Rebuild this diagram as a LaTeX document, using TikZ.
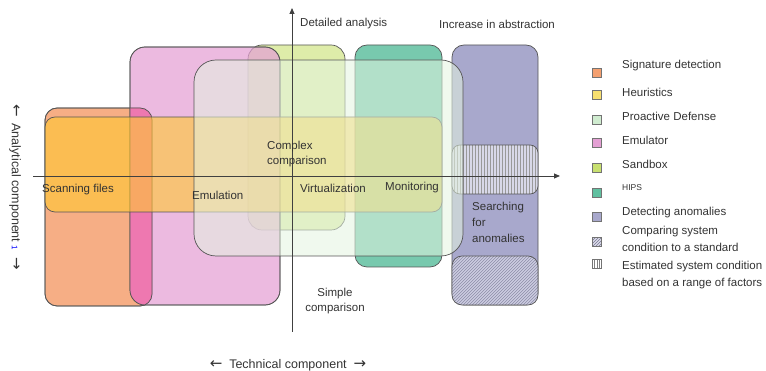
\documentclass[tikz,border=0pt]{standalone}
\usepackage{fontspec}
\setmainfont{Liberation Sans}
\newfontfamily\arrfont{DejaVu Sans}
\usetikzlibrary{arrows.meta}
\definecolor{cOrange}{HTML}{F4A070}
\definecolor{cYellow}{HTML}{FFC830}
\definecolor{cYellowL}{HTML}{F8E070}
\definecolor{cProact}{HTML}{D0ECD0}
\definecolor{cProactF}{HTML}{E4F4E0}
\definecolor{cPink}{HTML}{E4A0D4}
\definecolor{cHot}{HTML}{EE78B0}
\definecolor{cSand}{HTML}{C8E070}
\definecolor{cHips}{HTML}{60C0A0}
\definecolor{cPurple}{HTML}{A8A8CC}
\definecolor{cText}{HTML}{333333}
\definecolor{cEdge}{HTML}{555555}
\begin{document}
\begin{tikzpicture}[x=1pt,y=-1pt,
  box/.style={draw=cEdge, line width=0.7pt, inner sep=0pt, outer sep=0pt, anchor=north west},
  lbl/.style={text=cText, font=\fontsize{11.5}{15}\selectfont, inner sep=0pt},
  axlbl/.style={text=cText, font=\fontsize{12.5}{15}\selectfont, inner sep=0pt},
  legsq/.style={draw=black!55, line width=0.8pt, minimum width=9pt, minimum height=9pt, inner sep=0pt},
  legtxt/.style={lbl, anchor=west, align=left, font=\fontsize{11.5}{16.5}\selectfont},
  axis/.style={draw=black!75, line width=0.9pt, -{Triangle[length=6pt,width=5pt]}}
]
\useasboundingbox (0,0) rectangle (766,371);
% boxes
\node[box, fill=cSand, fill opacity=0.6, rounded corners=14pt, minimum width=97pt, minimum height=185pt] (sand) at (248,45) {};
\node[box, fill=cOrange, fill opacity=0.85, rounded corners=12pt, minimum width=107pt, minimum height=198pt] (sig) at (45,108) {};
\node[box, fill=cPink, fill opacity=0.72, rounded corners=15pt, minimum width=150pt, minimum height=258pt] (emu) at (130,47) {};
% overlap of signature detection and emulator
\begin{scope}
\clip[rounded corners=12pt] (45,108) rectangle (152,306);
\fill[cHot, rounded corners=15pt] (130,47) rectangle (280,305);
\end{scope}
\draw[cEdge, line width=0.7pt, rounded corners=12pt] (sig.north west) rectangle (sig.south east);
\draw[cEdge, line width=0.7pt, rounded corners=15pt] (emu.north west) rectangle (emu.south east);
\node[box, fill=cHips, fill opacity=0.85, rounded corners=12pt, minimum width=87pt, minimum height=222pt] (hips) at (355,45) {};
\node[box, fill=cYellow, fill opacity=0.6, rounded corners=10pt, minimum width=397pt, minimum height=95pt] (heur) at (45,117) {};
\node[box, fill=cPurple, rounded corners=12pt, minimum width=86pt, minimum height=260pt] (anom) at (452,45) {};
% striped box
\begin{scope}
\clip[rounded corners=8pt] (452,145) rectangle (538,194);
\fill[cPurple!45!white] (452,145) rectangle (538,194);
\foreach \x in {454,457,...,538} \draw[black!40, line width=0.5pt] (\x,145) -- (\x,194);
\end{scope}
\node[box, rounded corners=8pt, minimum width=86pt, minimum height=49pt] (stripe) at (452,145) {};
% hatched box
\begin{scope}
\clip[rounded corners=10pt] (452,256) rectangle (538,305);
\fill[cPurple!60!white] (452,256) rectangle (538,305);
\foreach \x in {400,403,...,540} \draw[cPurple!75!black, line width=0.35pt] (\x,305) -- ++(49,-49);
\end{scope}
\node[box, rounded corners=10pt, minimum width=86pt, minimum height=49pt] (hatch) at (452,256) {};
% proactive defense on top
\node[box, fill=cProactF, fill opacity=0.55, rounded corners=22pt, minimum width=269pt, minimum height=196pt] (proact) at (194,60) {};
% axes
\coordinate (vb) at (292,332);
\coordinate (vt) at (292,8);
\coordinate (hl) at (33,176);
\coordinate (hr) at (560,176);
\draw[axis] (vb) -- (vt);
\draw[axis] (hl) -- (hr);
% labels
\node[lbl, anchor=west] (da) at (300,24) {Detailed analysis};
\node[lbl, anchor=west] (ia) at (439,24) {Increase in abstraction};
\node[lbl, anchor=north west, align=left] (cc) at (267,141) {Complex\\comparison};
\node[lbl, anchor=west] (sf) at (42,190) {Scanning files};
\node[lbl, anchor=west] (em) at (192,195) {Emulation};
\node[lbl, anchor=west] (vi) at (300,188) {Virtualization};
\node[lbl, anchor=west] (mo) at (385,188) {Monitoring};
\node[lbl, anchor=north west, align=left, font=\fontsize{11.5}{16.2}\selectfont] (sa) at (472,202) {Searching\\for\\anomalies};
\node[lbl, align=center] (sc) at (335,301) {Simple\\comparison};
\node[axlbl] (tc) at (288,365) {{\arrfont\fontsize{15}{15}\selectfont ←}\; Technical component \;{\arrfont\fontsize{15}{15}\selectfont →}};
\node[axlbl, rotate=-90] (ac) at (15,187) {{\arrfont\fontsize{15}{15}\selectfont ←}\; Analytical component {\color{blue}\fontsize{8}{8}\selectfont 1}\; {\arrfont\fontsize{15}{15}\selectfont →}};
% legend
\node[legsq, fill=cOrange] (q1) at (597,73) {};
\node[legsq, fill=cYellowL] (q2) at (597,95) {};
\node[legsq, fill=cProact] (q3) at (597,120) {};
\node[legsq, fill=cPink] (q4) at (597,143) {};
\node[legsq, fill=cSand] (q5) at (597,168) {};
\node[legsq, fill=cHips] (q6) at (597,193) {};
\node[legsq, fill=cPurple] (q7) at (597,217) {};
\node[legsq, fill=cPurple!40!white] (q8) at (597,242) {};
\begin{scope}
\clip (592.5,237.5) rectangle (601.5,246.5);
\foreach \d in {-9,-6,-3,0,3,6,9} \draw[cPurple!70!black, line width=0.5pt] (597+\d-5,247) -- (597+\d+5,237);
\end{scope}
\node[legsq] (q8b) at (597,242) {};
\node[legsq, fill=white] (q9) at (597,264) {};
\foreach \d in {-2.5,0,2.5} \draw[black!50, line width=0.5pt] ([shift={(\d,-4)}]q9.center) -- ([shift={(\d,4)}]q9.center);
\node[legtxt] (t1) at (622,66) {Signature detection};
\node[legtxt] (t2) at (622,92) {Heuristics};
\node[legtxt] (t3) at (622,116) {Proactive Defense};
\node[legtxt] (t4) at (622,140) {Emulator};
\node[legtxt] (t5) at (622,164) {Sandbox};
\node[legtxt, font=\fontsize{8.5}{10}\selectfont] (t6) at (622,188) {HIPS};
\node[legtxt] (t7) at (622,213) {Detecting anomalies};
\node[legtxt] (t8) at (622,239) {Comparing system\\condition to a standard};
\node[legtxt] (t9) at (622,275) {Estimated system condition\\based on a range of factors};
\end{tikzpicture}
\end{document}
